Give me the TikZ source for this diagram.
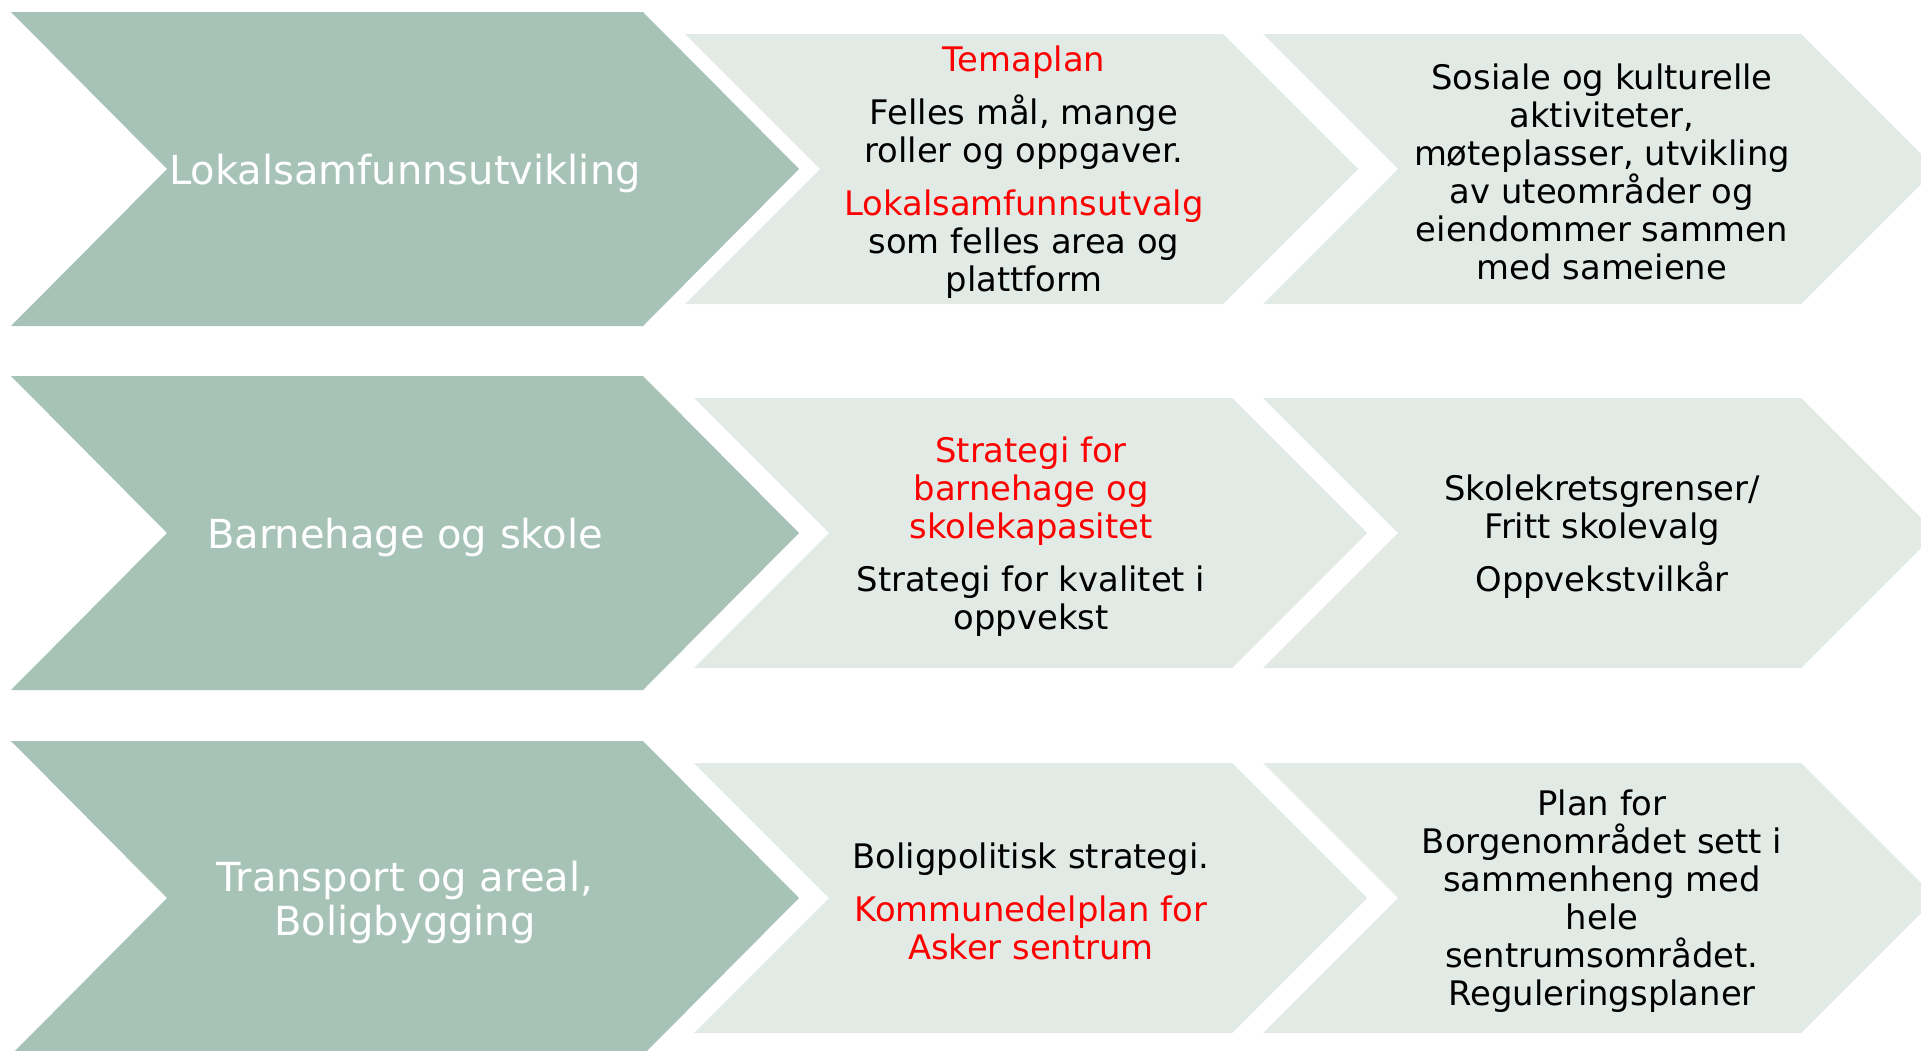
\documentclass[tikz,border=0pt]{standalone}
\usepackage{fontspec}
\setmainfont{DejaVu Sans}
\definecolor{sage}{HTML}{A7C3B7}
\definecolor{pale}{HTML}{E1EAE5}
\definecolor{redtxt}{HTML}{FF0000}
\newcommand\mybigchev[1]{\fill[bigchev] (11,#1) -- ++(632,0) -- ++(156,157) -- ++(-156,157) -- ++(-632,0) -- ++(156,-157) -- cycle;}
\newcommand\mypalechev[2]{\fill[palechev] (#1,#2) -- ++(538,0) -- ++(135,135) -- ++(-135,135) -- ++(-538,0) -- ++(135,-135) -- cycle;}
\newcommand\rd[1]{\textcolor{redtxt}{#1}}
\tikzset{
  bigchev/.style={fill=sage},
  palechev/.style={fill=pale},
  bigtxt/.style={text=white, font=\fontsize{40}{44}\selectfont, align=center, inner sep=0pt},
  smalltxt/.style={text=black, font=\fontsize{33.8}{38}\selectfont, align=center, inner sep=0pt}
}
\begin{document}
\begin{tikzpicture}[x=1pt,y=-1pt]
\useasboundingbox (0,0) rectangle (1921,1050);
\clip (0,0) rectangle (1921,1050);
\fill[white] (0,0) rectangle (1921,1050);
% row 1
\mybigchev{12}
\mypalechev{685}{34}
\mypalechev{1263}{34}
% row 2
\mybigchev{376}
\mypalechev{694}{398}
\mypalechev{1263}{398}
% row 3
\mybigchev{741}
\mypalechev{694}{763}
\mypalechev{1263}{763}
% texts
\node[bigtxt] (b1) at (405,173) {Lokalsamfunnsutvikling};
\node[bigtxt] (b2) at (405,537) {Barnehage og skole};
\node[bigtxt] (b3) at (405,902) {Transport og areal,\\Boligbygging};
\node[smalltxt] (m1) at (1024,172) {\rd{Temaplan}\\[15pt]Felles mål, mange\\roller og oppgaver.\\[15pt]\rd{Lokalsamfunnsutvalg}\\som felles area og\\plattform};
\node[smalltxt] (r1) at (1602,172) {Sosiale og kulturelle\\aktiviteter,\\møteplasser, utvikling\\av uteområder og\\eiendommer sammen\\med sameiene};
\node[smalltxt] (m2) at (1031,537) {\rd{Strategi for}\\\rd{barnehage og}\\\rd{skolekapasitet}\\[15pt]Strategi for kvalitet i\\oppvekst};
\node[smalltxt] (r2) at (1602,537) {Skolekretsgrenser/\\Fritt skolevalg\\[15pt]Oppvekstvilkår};
\node[smalltxt] (m3) at (1031,901) {Boligpolitisk strategi.\\[15pt]\rd{Kommunedelplan for}\\\rd{Asker sentrum}};
\node[smalltxt] (r3) at (1602,901) {Plan for\\Borgenområdet sett i\\sammenheng med\\hele\\sentrumsområdet.\\Reguleringsplaner};
\end{tikzpicture}
\end{document}
